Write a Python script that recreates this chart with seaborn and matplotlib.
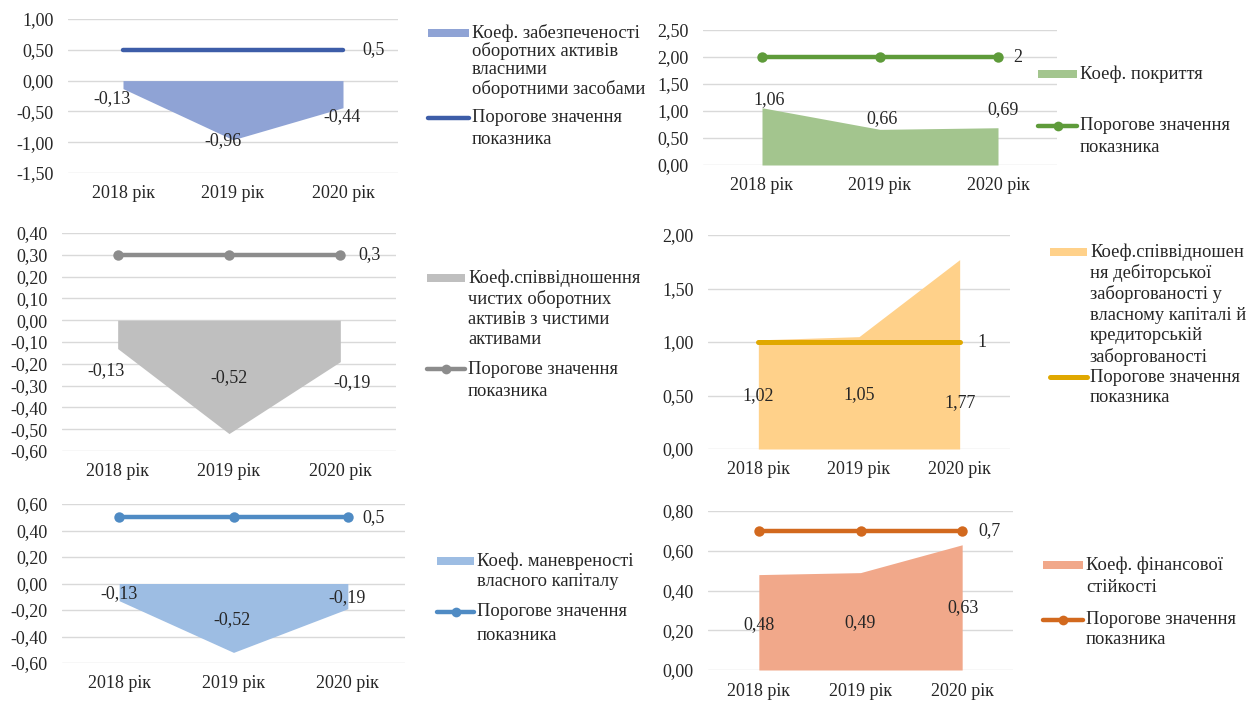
import matplotlib
matplotlib.use("Agg")
import matplotlib.pyplot as plt
import seaborn as sns
import pandas as pd
import numpy as np
from matplotlib.ticker import FuncFormatter, MultipleLocator
from matplotlib.patches import Rectangle
from matplotlib.lines import Line2D

# ---------------- data ----------------
years = ["2018 рік", "2019 рік", "2020 рік"]

own_circ = [-0.13, -0.96, -0.44]
own_circ_thr = [0.5, 0.5, 0.5]

coverage = [1.06, 0.66, 0.69]
coverage_thr = [2, 2, 2]

net_circ = [-0.13, -0.52, -0.19]
net_circ_thr = [0.3, 0.3, 0.3]

receiv = [1.02, 1.05, 1.77]
receiv_thr = [1, 1, 1]

maneuver = [-0.13, -0.52, -0.19]
maneuver_thr = [0.5, 0.5, 0.5]

fin_stab = [0.48, 0.49, 0.63]
fin_stab_thr = [0.7, 0.7, 0.7]

thr_label = "Порогове значення\nпоказника"
series_labels = [
    "Коеф. забезпеченості\nоборотних активів\nвласними\nоборотними засобами",
    "Коеф. покриття",
    "Коеф.співвідношення\nчистих оборотних\nактивів з чистими\nактивами",
    "Коеф.співвідношен\nня дебіторської\nзаборгованості у\nвласному капіталі й\nкредиторській\nзаборгованості",
    "Коеф. маневреності\nвласного капіталу",
    "Коеф. фінансової\nстійкості",
]

# ---------------- style ----------------
sns.set_style("white")
plt.rcParams["font.family"] = ["Liberation Serif", "DejaVu Serif"]
TXT = "#262626"
GRID = "#D9D9D9"
W, H = 1253, 704
TICK_FS = 13
LAB_FS = 13
LEG_FS = 13.3

fig = plt.figure(figsize=(W / 100, H / 100), dpi=100)


def px_rect(l, r, t, b):
    return [l / W, 1 - b / H, (r - l) / W, (b - t) / H]


def comma(v, decimals=2):
    return f"{v:.{decimals}f}".replace(".", ",")


def comma_g(v):
    return f"{v:g}".replace(".", ",")


def panel(rect, values, thr, ylim, step, area_col, line_col, marker, lw,
          val_offsets, thr_dx, leg):
    ax = fig.add_axes(px_rect(*rect))
    df = pd.DataFrame({"pos": np.arange(len(years)), "year": years,
                       "value": values, "thr": thr})
    ax.fill_between(df["pos"], 0, df["value"], color=area_col, lw=0, zorder=2)
    kw = dict(marker="o", markersize=7.5, markeredgewidth=0) if marker else {}
    sns.lineplot(data=df, x="pos", y="thr", ax=ax, color=line_col, lw=lw,
                 legend=False, zorder=3, solid_capstyle="round", **kw)
    ax.set_xlim(-0.5, len(years) - 0.5)
    ax.set_ylim(*ylim)
    ax.yaxis.set_major_locator(MultipleLocator(step))
    ax.yaxis.set_major_formatter(FuncFormatter(lambda v, p: comma(v)))
    ax.set_xticks(df["pos"], years)
    ax.grid(axis="y", color=GRID, lw=1, zorder=0)
    ax.grid(axis="x", visible=False)
    for s in ax.spines.values():
        s.set_visible(False)
    ax.tick_params(axis="both", length=0, labelsize=TICK_FS, colors=TXT)
    ax.tick_params(axis="x", pad=9)
    ax.tick_params(axis="y", pad=10.5)
    ax.set_xlabel("")
    ax.set_ylabel("")
    ax.set_facecolor("none")
    for i, v in enumerate(values):
        dx, dy = val_offsets[i]
        ax.annotate(comma(v), xy=(i, v), xytext=(dx, dy),
                    textcoords="offset pixels", ha="center", va="center",
                    fontsize=LAB_FS, color=TXT, zorder=5)
    ax.annotate(comma_g(thr[-1]), xy=(len(thr) - 1, thr[-1]),
                xytext=(thr_dx, 0), textcoords="offset pixels",
                ha="left", va="center", fontsize=LAB_FS, color=TXT, zorder=5)

    # legend (drawn in figure pixel space)
    x0, text_x, ya, yb, sp_a, sp_b, label = leg
    hw = text_x - x0 - 3
    fig.patches.append(Rectangle((x0 / W, 1 - (ya + 4) / H), hw / W, 8 / H,
                                 transform=fig.transFigure, color=area_col,
                                 lw=0))
    for k, line in enumerate(label.split("\n")):
        fig.text(text_x / W, 1 - (ya + k * sp_a) / H, line, ha="left",
                 va="center", fontsize=LEG_FS, color=TXT)
    ln = Line2D([x0 / W, (x0 + hw) / W], [1 - yb / H, 1 - yb / H],
                transform=fig.transFigure, color=line_col, lw=lw,
                solid_capstyle="round")
    fig.lines.append(ln)
    if marker:
        fig.lines.append(Line2D([(x0 + hw / 2) / W], [1 - yb / H],
                                transform=fig.transFigure, color=line_col,
                                marker="o", markersize=7, markeredgewidth=0,
                                lw=0))
    for k, line in enumerate(thr_label.split("\n")):
        fig.text(text_x / W, 1 - (yb + k * sp_b) / H, line, ha="left",
                 va="center", fontsize=LEG_FS, color=TXT)
    return ax


# panel 1 (top-left)
panel((68, 398, 19, 173), own_circ, own_circ_thr, (-1.5, 1.0), 0.5,
      "#8FA3D5", "#3D5DA8", False, 3.2,
      [(-11, -10), (-10, -1), (-1, -9)], 19,
      (428, 472, 33, 118, 18.5, 21, series_labels[0]))

# panel 2 (top-right)
panel((703, 1057, 30, 165), coverage, coverage_thr, (0, 2.5), 0.5,
      "#A3C58E", "#5E9B3A", True, 3.2,
      [(7, 8), (2, 11), (5, 18)], 15,
      (1038, 1080, 74, 126, 21, 22, series_labels[1]))

# panel 3 (middle-left)
panel((62, 396, 233, 451), net_circ, net_circ_thr, (-0.6, 0.4), 0.1,
      "#BFBFBF", "#8C8C8C", True, 3.2,
      [(-12, -22), (0, 56), (12, -21)], 18,
      (427, 468, 278, 369, 20.5, 23, series_labels[2]))

# panel 4 (middle-right)
panel((708, 1010, 235, 449), receiv, receiv_thr, (0, 2.0), 0.5,
      "#FFD18A", "#E0A800", False, 3.6,
      [(0, -56), (0, -58), (0, -143)], 18,
      (1050, 1090, 252, 377, 21, 21, series_labels[3]))

# panel 5 (bottom-left)
panel((62, 405, 504, 663), maneuver, maneuver_thr, (-0.6, 0.6), 0.2,
      "#9DBDE3", "#4F8BC4", True, 3.2,
      [(0, 7), (-1, 33), (-1, 11)], 15,
      (437, 477, 561, 612, 21, 23, series_labels[4]))

# panel 6 (bottom-right)
panel((708, 1013, 511, 670), fin_stab, fin_stab_thr, (0, 0.8), 0.2,
      "#F1A88A", "#D2691E", True, 3.2,
      [(0, -50), (0, -50), (1, -63)], 16,
      (1043, 1086, 565, 620, 23, 20, series_labels[5]))

fig.savefig("out.png", dpi=100, facecolor="white")
